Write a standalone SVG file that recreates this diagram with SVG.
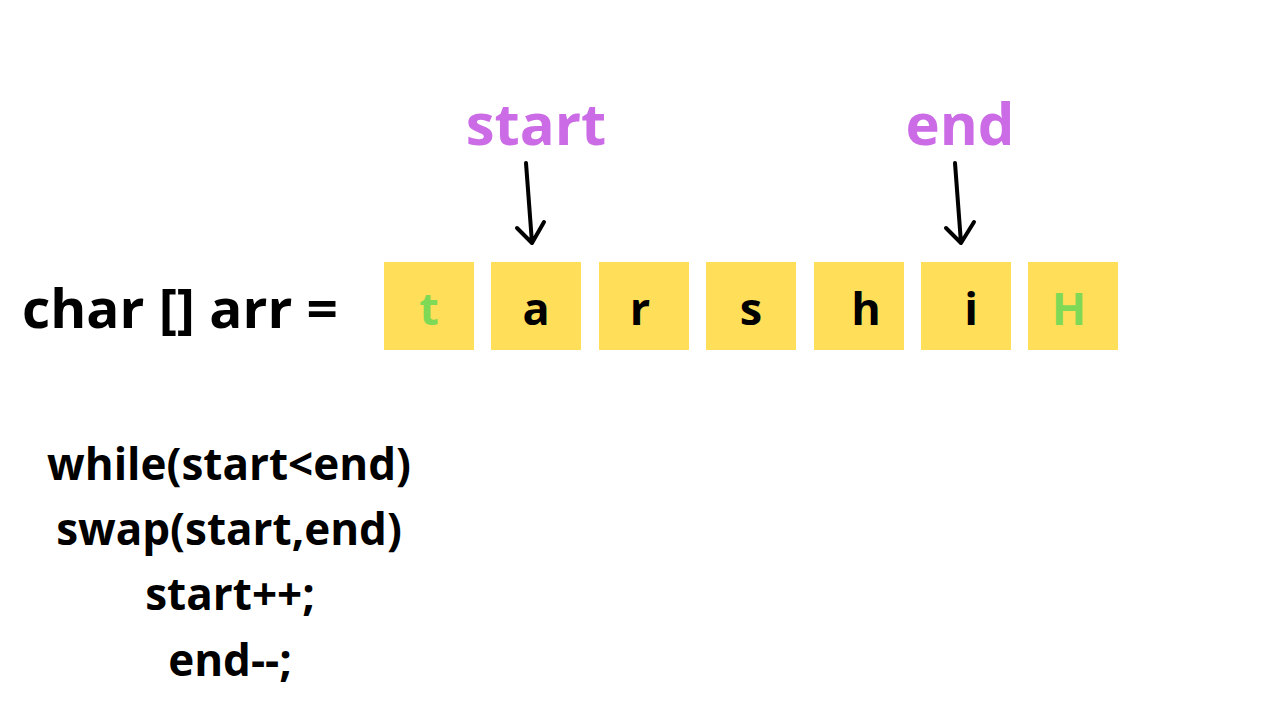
<svg xmlns="http://www.w3.org/2000/svg" width="1280" height="720" viewBox="0 0 1280 720">
<style>
.cell{fill:#FFDE59}
.ch{font-family:"Open Sans","Liberation Sans",sans-serif;font-weight:700;font-size:45px;text-anchor:middle;fill:#000}
.g{fill:#7ED957}
.lbl{font-family:"Open Sans","Liberation Sans",sans-serif;font-weight:700;font-size:58px;text-anchor:middle;fill:#CB6CE6}
.code{font-family:"Open Sans","Liberation Sans",sans-serif;font-weight:700;font-size:44px;text-anchor:middle;fill:#000}
.arr{stroke:#000;stroke-width:4;fill:none;stroke-linecap:round;stroke-linejoin:round}
</style>
<rect width="1280" height="720" fill="#fff"/>
<g id="decl"><text x="180" y="328" font-family="Open Sans, Liberation Sans, sans-serif" font-weight="700" font-size="54" text-anchor="middle" textLength="316" lengthAdjust="spacingAndGlyphs">char [] arr =</text></g>
<g id="cell0"><rect class="cell" x="384" y="262" width="90" height="88"/><text class="ch g" x="429" y="325">t</text></g>
<g id="cell1"><rect class="cell" x="491" y="262" width="90" height="88"/><text class="ch" x="536" y="325">a</text></g>
<g id="cell2"><rect class="cell" x="599" y="262" width="90" height="88"/><text class="ch" x="640" y="325">r</text></g>
<g id="cell3"><rect class="cell" x="706" y="262" width="90" height="88"/><text class="ch" x="751" y="325">s</text></g>
<g id="cell4"><rect class="cell" x="814" y="262" width="90" height="88"/><text class="ch" x="866" y="325">h</text></g>
<g id="cell5"><rect class="cell" x="921" y="262" width="90" height="88"/><text class="ch" x="971" y="325">i</text></g>
<g id="cell6"><rect class="cell" x="1028" y="262" width="90" height="88"/><text class="ch g" x="1069" y="325">H</text></g>
<g id="start"><text class="lbl" x="536" y="145">start</text></g>
<g id="end"><text class="lbl" x="960" y="145">end</text></g>
<g id="connectors">
<path class="arr" d="M526 163 L532 243 M517 228 L532 243 L544 222"/>
<path class="arr" d="M955 163 L961 243 M946 228 L961 243 L974 222"/>
</g>
<g id="code">
<text class="code" x="229" y="480">while(start&lt;end)</text>
<text class="code" x="229" y="545">swap(start,end)</text>
<text class="code" x="230" y="610">start++;</text>
<text class="code" x="230" y="676">end--;</text>
</g>
</svg>
